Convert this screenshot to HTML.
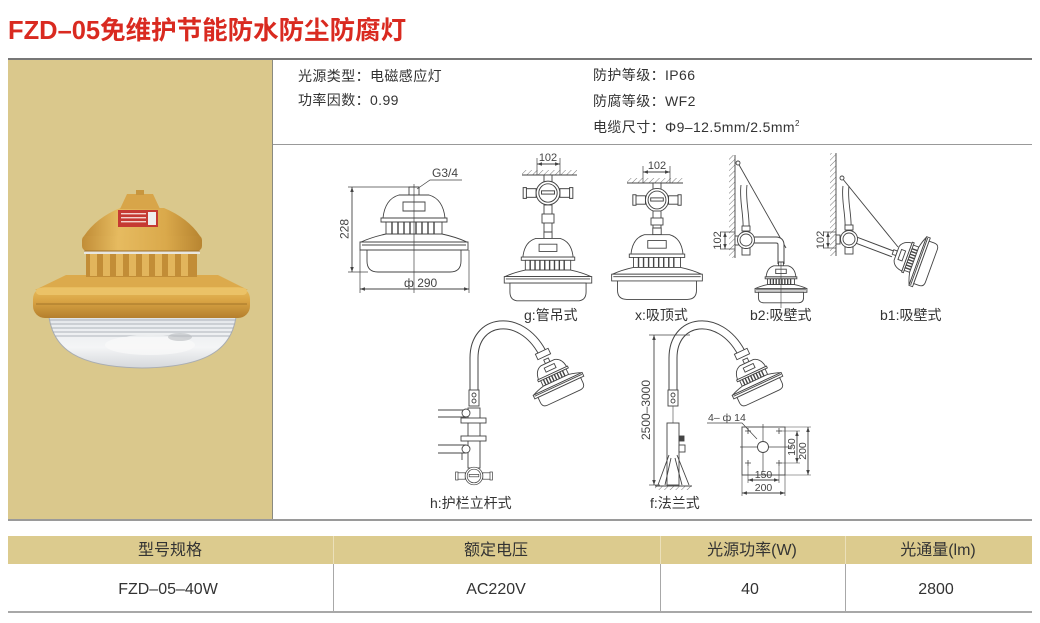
<!DOCTYPE html>
<html><head><meta charset="utf-8">
<style>
html,body{margin:0;padding:0;background:#fff;}
body{width:1040px;height:623px;overflow:hidden;position:relative;}
svg{position:absolute;left:0;top:0;}
.t{font-family:"Liberation Sans","Noto Sans CJK SC",sans-serif;}
</style></head>
<body>
<svg width="1040" height="623" viewBox="0 0 1040 623" xmlns="http://www.w3.org/2000/svg">
<defs>
<marker id="ar" viewBox="0 0 10 10" refX="10" refY="5" markerWidth="6" markerHeight="5" orient="auto-start-reverse" markerUnits="userSpaceOnUse"><path d="M0 1.5 L10 5 L0 8.5 Z" fill="#444"/></marker>
<pattern id="hp" width="4" height="4" patternUnits="userSpaceOnUse" patternTransform="rotate(45)"><line x1="0" y1="0" x2="0" y2="4" stroke="#555" stroke-width="0.8"/></pattern>
<linearGradient id="flg" x1="0" y1="0" x2="0" y2="1">
<stop offset="0" stop-color="#e9bd5e"/><stop offset="0.45" stop-color="#d9a444"/><stop offset="1" stop-color="#b47f2d"/></linearGradient>
<linearGradient id="bd" x1="0" y1="0" x2="1" y2="0">
<stop offset="0" stop-color="#c18d37"/><stop offset="0.3" stop-color="#e6bb60"/><stop offset="0.7" stop-color="#daa94b"/><stop offset="1" stop-color="#b88531"/></linearGradient>
<linearGradient id="gl" x1="0" y1="0" x2="0" y2="1">
<stop offset="0" stop-color="#bfc3c8"/><stop offset="0.35" stop-color="#e9ecef"/><stop offset="0.7" stop-color="#f4f5f6"/><stop offset="1" stop-color="#d5d8dc"/></linearGradient>
<clipPath id="bowlclip"><path d="M48 300 L237 300 C238 345 215 367 142 368 C70 367 47 345 48 300 Z"/></clipPath>
<g id="L" fill="#fff" stroke="#444" stroke-width="0.9">
<rect x="-5" y="0" width="10" height="8" vector-effect="non-scaling-stroke"/>
<path d="M-15 8 Q-29 12 -31 31 L31 31 Q29 12 15 8 Z" vector-effect="non-scaling-stroke"/>
<rect x="-11" y="15" width="22" height="9" vector-effect="non-scaling-stroke"/>
<rect x="-33" y="31" width="66" height="4" vector-effect="non-scaling-stroke"/>
<rect x="-28" y="35" width="56" height="12" vector-effect="non-scaling-stroke"/>
<path d="M-22 35 V47 M-16 35 V47 M-10 35 V47 M-4 35 V47 M2 35 V47 M8 35 V47 M14 35 V47 M20 35 V47" vector-effect="non-scaling-stroke" stroke-width="1.4"/>
<path d="M-28 47 Q-42 50 -53 55 L53 55 Q42 50 28 47 Z" vector-effect="non-scaling-stroke"/>
<rect x="-54" y="55" width="108" height="8" vector-effect="non-scaling-stroke"/>
<path d="M-52 58 H52" vector-effect="non-scaling-stroke"/>
<path d="M-47 63 L-47 74 Q-47 85 -36 85 L36 85 Q47 85 47 74 L47 63 Z" vector-effect="non-scaling-stroke"/>
</g>
<g id="J" fill="#fff" stroke="#444" stroke-width="0.9">
<rect x="-21" y="-4" width="10" height="8"/><rect x="11" y="-4" width="10" height="8"/>
<rect x="-23" y="-5" width="3" height="10"/><rect x="20" y="-5" width="3" height="10"/>
<circle r="11"/><circle r="8.5"/>
<rect x="-6" y="-2" width="12" height="3"/>
</g>
</defs>

<!-- Title -->
<text class="t" x="8" y="39" font-size="25.5" fill="#d92a20" font-weight="bold">FZD–05免维护节能防水防尘防腐灯</text>

<!-- frame -->
<rect x="8" y="58" width="1024" height="2" fill="#777"/>
<rect x="8" y="60" width="264" height="460" fill="#dac88c"/>
<rect x="272" y="60" width="1" height="460" fill="#8a8a80"/>
<rect x="273" y="144" width="759" height="1" fill="#999"/>
<rect x="8" y="519" width="1024" height="2" fill="#9a9a9a"/>

<!-- spec text -->
<g class="t" font-size="14" fill="#333" letter-spacing="0.4">
<text x="298" y="81">光源类型：电磁感应灯</text>
<text x="298" y="105">功率因数：0.99</text>
<text x="593" y="80">防护等级：IP66</text>
<text x="593" y="106">防腐等级：WF2</text>
<text x="593" y="132">电缆尺寸：Φ9–12.5mm/2.5mm<tspan font-size="8" dy="-6">2</tspan></text>
</g>

<!-- photo lamp -->
<g>
<path d="M48 300 L237 300 C238 345 215 367 142 368 C70 367 47 345 48 300 Z" fill="url(#gl)" stroke="#a9adb2" stroke-width="1"/>
<g clip-path="url(#bowlclip)" stroke="#9aa1a9" stroke-width="1" opacity="0.75">
<path d="M40 304 H245 M40 308 H245 M40 312 H245 M40 316 H245 M40 320 H245 M40 324 H245 M40 328 H245 M40 332 H245 M40 336 H245"/>
</g>
<ellipse cx="150" cy="345" rx="45" ry="10" fill="#fafafa" opacity="0.7"/>
<ellipse cx="180" cy="337" rx="12" ry="4" fill="#b9bcc0" opacity="0.6"/>
<path d="M66 275 L218 275 L248 290 L35 290 Z" fill="#dcaa4c"/>
<rect x="33" y="287" width="217" height="31" rx="12" fill="url(#flg)"/>
<rect x="36" y="288" width="211" height="7" rx="4" fill="#ebc267"/>
<line x1="36" y1="304" x2="247" y2="304" stroke="#a47629" stroke-width="1"/>
<rect x="86" y="248" width="111" height="29" fill="#c28d37"/>
<g fill="#e2b55c">
<rect x="90" y="252" width="7" height="24"/><rect x="103" y="252" width="7" height="24"/><rect x="116" y="252" width="7" height="24"/><rect x="129" y="252" width="7" height="24"/><rect x="142" y="252" width="7" height="24"/><rect x="155" y="252" width="7" height="24"/><rect x="168" y="252" width="7" height="24"/><rect x="181" y="252" width="7" height="24"/>
</g>
<rect x="84" y="250" width="116" height="4" fill="#e8e6df"/>
<rect x="82" y="235" width="120" height="16" rx="5" fill="url(#bd)"/>
<line x1="84" y1="251" x2="200" y2="251" stroke="#9b6f28" stroke-width="1"/>
<path d="M120 208 L164 208 Q188 218 200 236 L84 236 Q96 218 120 208 Z" fill="url(#bd)"/>
<path d="M127 194 L153 194 L160 209 L120 209 Z" fill="#d8a549"/>
<rect x="136" y="190" width="8" height="5" fill="#c8963e"/>
<rect x="118" y="210" width="40" height="17" fill="#c53a32"/>
<g fill="#f3d3cc"><rect x="121" y="213" width="25" height="1.4"/><rect x="121" y="217" width="25" height="1.4"/><rect x="121" y="221" width="25" height="1.4"/></g>
<rect x="148" y="212" width="8" height="13" fill="#eee"/>
</g>

<!-- ===== Drawings ===== -->
<g stroke="#444" stroke-width="0.9" fill="none">
<!-- Drawing 1 -->
<use href="#L" transform="translate(414,187)"/>
<line x1="414" y1="184" x2="414" y2="293" stroke-width="0.7"/>
<line x1="348" y1="187" x2="410" y2="187" stroke-width="0.7"/>
<line x1="348" y1="272" x2="368" y2="272" stroke-width="0.7"/>
<line x1="352" y1="187" x2="352" y2="272" marker-start="url(#ar)" marker-end="url(#ar)"/>
<line x1="360" y1="250" x2="360" y2="293" stroke-width="0.7"/>
<line x1="469" y1="250" x2="469" y2="293" stroke-width="0.7"/>
<line x1="360" y1="289" x2="469" y2="289" marker-start="url(#ar)" marker-end="url(#ar)"/>
<polyline points="417,189 430,180 462,180" stroke-width="0.7"/>

<!-- Drawing g -->
<rect x="522" y="170" width="55" height="5" fill="url(#hp)" stroke="none"/>
<line x1="522" y1="175" x2="577" y2="175"/>
<line x1="537" y1="158" x2="537" y2="175" stroke-width="0.7"/>
<line x1="560" y1="158" x2="560" y2="175" stroke-width="0.7"/>
<line x1="537" y1="164" x2="560" y2="164" marker-start="url(#ar)" marker-end="url(#ar)"/>
<rect x="544" y="175" width="8" height="7" fill="#fff"/>
<use href="#J" transform="translate(548,193) scale(1.08)"/>
<rect x="544" y="205" width="8" height="28" fill="#fff"/>
<rect x="542" y="214" width="12" height="9" fill="#fff"/>
<use href="#L" transform="translate(548,232) scale(0.81)"/>

<!-- Drawing x -->
<rect x="627" y="178" width="56" height="5" fill="url(#hp)" stroke="none"/>
<line x1="627" y1="183" x2="683" y2="183"/>
<line x1="643" y1="166" x2="643" y2="183" stroke-width="0.7"/>
<line x1="670" y1="166" x2="670" y2="183" stroke-width="0.7"/>
<line x1="643" y1="172" x2="670" y2="172" marker-start="url(#ar)" marker-end="url(#ar)"/>
<rect x="653" y="183" width="8" height="6" fill="#fff"/>
<use href="#J" transform="translate(657,200) scale(1.05)"/>
<rect x="653" y="211" width="8" height="18" fill="#fff"/>
<rect x="651" y="218" width="12" height="7" fill="#fff"/>
<use href="#L" transform="translate(657,228) scale(0.84)"/>

<!-- Drawing b2 -->
<rect x="729" y="155" width="6" height="103" fill="url(#hp)" stroke="none"/>
<line x1="735" y1="155" x2="735" y2="258"/>
<line x1="738" y1="163" x2="786" y2="248"/>
<circle cx="738" cy="163" r="2" fill="#fff"/>
<path d="M741 185 C739 200 744 215 743 230 M747 185 C745 200 750 215 749 230"/>
<path d="M754 240 L776 240 Q781 240 781 245 L781 264" stroke="#444" stroke-width="7"/>
<path d="M754 240 L776 240 Q781 240 781 245 L781 264" stroke="#fff" stroke-width="5"/>
<rect x="735" y="236" width="4" height="9" fill="#fff"/>
<rect x="742" y="226" width="8" height="5" fill="#fff"/>
<rect x="742" y="248" width="8" height="7" fill="#fff"/>
<circle cx="746" cy="240" r="8.5" fill="#fff"/>
<circle cx="746" cy="240" r="6" fill="#fff"/>
<line x1="720" y1="232" x2="735" y2="232" stroke-width="0.7"/>
<line x1="720" y1="249" x2="735" y2="249" stroke-width="0.7"/>
<line x1="725" y1="232" x2="725" y2="249" marker-start="url(#ar)" marker-end="url(#ar)"/>
<use href="#L" transform="translate(781,262) scale(0.48)"/>
<line x1="781" y1="262" x2="781" y2="308" stroke-width="0.6"/>

<!-- Drawing b1 -->
<rect x="830" y="153" width="6" height="103" fill="url(#hp)" stroke="none"/>
<line x1="836" y1="153" x2="836" y2="256"/>
<line x1="842" y1="178" x2="898" y2="247"/>
<circle cx="842" cy="178" r="2" fill="#fff"/>
<path d="M843 186 C841 200 846 215 845 229 M849 186 C847 200 852 215 851 229"/>
<path d="M856 240 L893 254" stroke="#444" stroke-width="7"/>
<path d="M856 240 L893 254" stroke="#fff" stroke-width="5"/>
<rect x="836" y="235" width="4" height="9" fill="#fff"/>
<rect x="845" y="225" width="8" height="5" fill="#fff"/>
<rect x="845" y="247" width="8" height="7" fill="#fff"/>
<circle cx="849" cy="239" r="8.5" fill="#fff"/>
<circle cx="849" cy="239" r="6" fill="#fff"/>
<line x1="823" y1="232" x2="836" y2="232" stroke-width="0.7"/>
<line x1="823" y1="248" x2="836" y2="248" stroke-width="0.7"/>
<line x1="828" y1="232" x2="828" y2="248" marker-start="url(#ar)" marker-end="url(#ar)"/>
<use href="#L" transform="translate(893,252) rotate(-70) scale(0.48)"/>

<!-- Drawing h -->
<path d="M474 392 L474 358 C474 318 520 312 542 352" stroke="#444" stroke-width="9"/>
<path d="M474 392 L474 358 C474 318 520 312 542 352" stroke="#fff" stroke-width="7"/>
<rect x="-7" y="-3" width="14" height="6" fill="#fff" transform="translate(543,354) rotate(-25)"/>
<use href="#L" transform="translate(546,359) rotate(-25) scale(0.5)"/>
<rect x="469" y="390" width="10" height="16" fill="#fff"/>
<circle cx="474" cy="395" r="2"/><circle cx="474" cy="401" r="2"/>
<rect x="468" y="408" width="12" height="60" fill="#fff"/>
<line x1="438" y1="410" x2="466" y2="410"/>
<line x1="438" y1="417" x2="466" y2="417"/>
<circle cx="466" cy="413" r="4" fill="#fff"/>
<line x1="438" y1="445" x2="466" y2="445"/>
<line x1="438" y1="453" x2="466" y2="453"/>
<circle cx="466" cy="449" r="4" fill="#fff"/>
<line x1="462" y1="453" x2="462" y2="460"/>
<rect x="461" y="418" width="25" height="5" fill="#fff"/>
<rect x="461" y="436" width="25" height="5" fill="#fff"/>
<use href="#J" transform="translate(474,476) scale(0.8)"/>

<!-- Drawing f -->
<path d="M673 392 L673 358 C673 318 719 312 741 352" stroke="#444" stroke-width="9"/>
<path d="M673 392 L673 358 C673 318 719 312 741 352" stroke="#fff" stroke-width="7"/>
<rect x="-7" y="-3" width="14" height="6" fill="#fff" transform="translate(742,354) rotate(-25)"/>
<use href="#L" transform="translate(745,359) rotate(-25) scale(0.5)"/>
<rect x="668" y="390" width="10" height="16" fill="#fff"/>
<circle cx="673" cy="395" r="2"/><circle cx="673" cy="401" r="2"/>
<line x1="673" y1="406" x2="673" y2="423" stroke-width="0.6"/>
<rect x="667" y="423" width="12" height="62" fill="#fff"/>
<rect x="679" y="436" width="5" height="5" fill="#444"/>
<rect x="679" y="445" width="6" height="7" fill="#fff"/>
<path d="M669 455 L658 485 M677 455 L689 485 M671 458 L665 485 M675 458 L682 485"/>
<rect x="655" y="486" width="37" height="4" fill="url(#hp)" stroke="none"/>
<line x1="655" y1="486" x2="692" y2="486"/>
<line x1="649" y1="335" x2="690" y2="335" stroke-width="0.7"/>
<line x1="649" y1="485" x2="660" y2="485" stroke-width="0.7"/>
<line x1="654" y1="335" x2="654" y2="485" marker-start="url(#ar)" marker-end="url(#ar)"/>

<!-- flange detail -->
<rect x="742" y="427" width="43" height="48"/>
<line x1="740" y1="447" x2="793" y2="447" stroke-width="0.7"/>
<line x1="763" y1="424" x2="763" y2="472" stroke-width="0.7"/>
<circle cx="763" cy="447" r="5.5" fill="#fff"/>
<path d="M745 431 H751 M748 428 V434 M776 431 H782 M779 428 V434 M745 463 H751 M748 460 V466 M776 463 H782 M779 460 V466" stroke-width="0.8"/>
<line x1="785" y1="427" x2="811" y2="427" stroke-width="0.6"/>
<line x1="779" y1="431" x2="800" y2="431" stroke-width="0.6"/>
<line x1="779" y1="463" x2="800" y2="463" stroke-width="0.6"/>
<line x1="785" y1="475" x2="811" y2="475" stroke-width="0.6"/>
<line x1="797" y1="431" x2="797" y2="463" marker-start="url(#ar)" marker-end="url(#ar)"/>
<line x1="808" y1="427" x2="808" y2="475" marker-start="url(#ar)" marker-end="url(#ar)"/>
<line x1="742" y1="475" x2="742" y2="496" stroke-width="0.6"/>
<line x1="785" y1="475" x2="785" y2="496" stroke-width="0.6"/>
<line x1="748" y1="466" x2="748" y2="483" stroke-width="0.6"/>
<line x1="779" y1="466" x2="779" y2="483" stroke-width="0.6"/>
<line x1="748" y1="480" x2="779" y2="480" marker-start="url(#ar)" marker-end="url(#ar)"/>
<line x1="742" y1="493" x2="785" y2="493" marker-start="url(#ar)" marker-end="url(#ar)"/>
<polyline points="707,423 742,423 757,439" stroke-width="0.7"/>
</g>

<!-- drawing text -->
<g class="t" fill="#444">
<text x="432" y="177" font-size="12">G3/4</text>
<text x="404" y="287" font-size="12">ф 290</text>
<text transform="translate(348.5,229) rotate(-90)" font-size="12" text-anchor="middle">228</text>
<text x="548" y="161" font-size="11" text-anchor="middle">102</text>
<text x="657" y="169" font-size="11" text-anchor="middle">102</text>
<text transform="translate(721,240.5) rotate(-90)" font-size="11" text-anchor="middle">102</text>
<text transform="translate(824,240) rotate(-90)" font-size="11" text-anchor="middle">102</text>
<text transform="translate(650,410) rotate(-90)" font-size="12" text-anchor="middle">2500–3000</text>
<text transform="translate(795,447) rotate(-90)" font-size="10.5" text-anchor="middle">150</text>
<text transform="translate(806,451) rotate(-90)" font-size="10.5" text-anchor="middle">200</text>
<text x="763.5" y="478" font-size="10.5" text-anchor="middle">150</text>
<text x="763.5" y="491" font-size="10.5" text-anchor="middle">200</text>
<text x="708" y="421" font-size="10.5">4– ф 14</text>
<g font-size="14" fill="#333">
<text x="524" y="320">g:管吊式</text>
<text x="635" y="320">x:吸顶式</text>
<text x="750" y="320">b2:吸壁式</text>
<text x="880" y="320">b1:吸壁式</text>
<text x="430" y="508">h:护栏立杆式</text>
<text x="650" y="508">f:法兰式</text>
</g>
</g>

<!-- Table -->
<rect x="8" y="536" width="1024" height="28" fill="#dccb8e"/>
<g fill="#ebe0ba">
<rect x="333" y="536" width="1" height="28"/><rect x="660" y="536" width="1" height="28"/><rect x="845" y="536" width="1" height="28"/>
</g>
<g fill="#a8a8a8">
<rect x="333" y="564" width="1" height="47"/><rect x="660" y="564" width="1" height="47"/><rect x="845" y="564" width="1" height="47"/>
</g>
<rect x="8" y="611" width="1024" height="2" fill="#a8a8a8"/>
<g class="t" font-size="16" fill="#333" text-anchor="middle">
<text x="170" y="555">型号规格</text>
<text x="496" y="555">额定电压</text>
<text x="752" y="555">光源功率(W)</text>
<text x="938" y="555">光通量(lm)</text>
<text x="168" y="594">FZD–05–40W</text>
<text x="496" y="594">AC220V</text>
<text x="750" y="594">40</text>
<text x="936" y="594">2800</text>
</g>
</svg>
</body></html>
